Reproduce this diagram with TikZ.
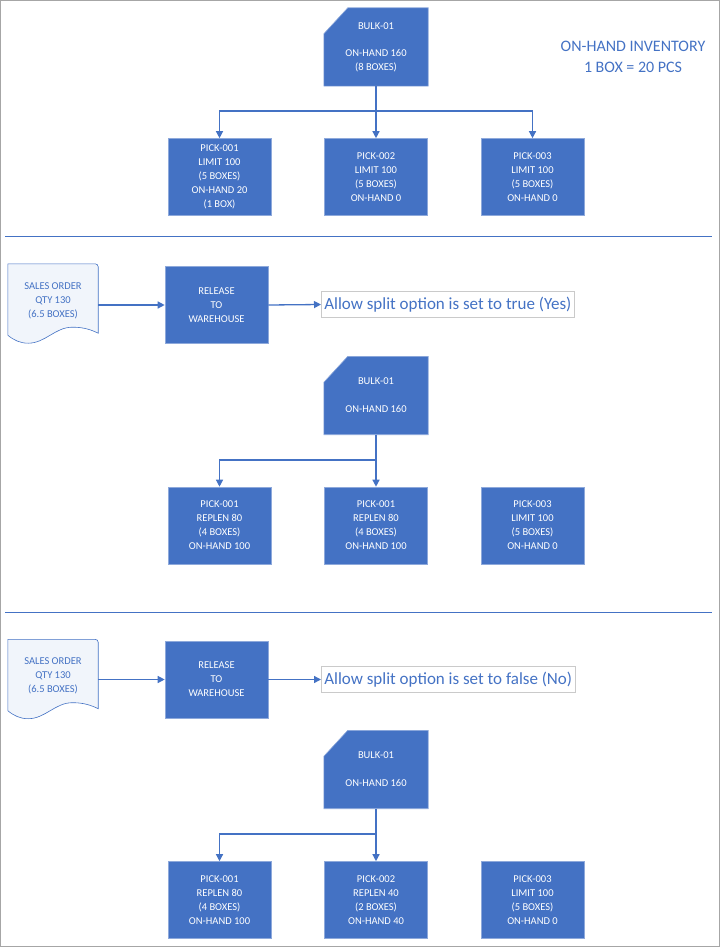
\documentclass[tikz,border=0pt]{standalone}
\usepackage{fontspec}
\setmainfont{Carlito}
\usetikzlibrary{arrows.meta}
\definecolor{boxblue}{HTML}{4472C4}
\definecolor{boxedge}{HTML}{8EA9DB}
\definecolor{docfill}{HTML}{F1F5FB}
\definecolor{framegray}{HTML}{A6A6A6}
\tikzset{
  pickbox/.style={rectangle, fill=boxblue, draw=boxedge, line width=0.6pt, minimum width=103pt, minimum height=77pt, text=white, font=\fontsize{10.5}{14}\selectfont, align=center, inner sep=0pt},
  bulkbox/.style={rectangle, minimum width=104pt, minimum height=78pt, text=white, font=\fontsize{10.5}{14}\selectfont, align=center, inner sep=0pt},
  bulkshape/.style={fill=boxblue, draw=boxedge, line width=0.6pt},
  docbox/.style={rectangle, minimum width=90pt, minimum height=79pt, text=boxblue, font=\fontsize{10.5}{14}\selectfont, align=center, inner sep=0pt},
  docshape/.style={fill=docfill, draw=boxblue, line width=0.6pt},
  optlabel/.style={rectangle, draw=framegray!60, line width=0.6pt, text=boxblue, font=\fontsize{17}{19}\selectfont, inner xsep=3pt, inner ysep=0pt, minimum height=26pt, anchor=west},
  conn/.style={draw=boxblue, line width=1.3pt},
  arrowconn/.style={conn, -{Triangle[length=7pt,width=7pt]}},
  sepline/.style={draw=boxblue, line width=1pt},
}
\newcommand{\bulkpath}[1]{%
  \path[bulkshape] (#1.south west) -- (#1.south east) -- (#1.north east) -- ([xshift=24pt]#1.north west) -- ([yshift=-26pt]#1.north west) -- cycle;}
\newcommand{\docpath}[1]{%
  \path[docshape] (#1.north west) -- ([xshift=-3pt]#1.north east) to[out=0,in=90] ([yshift=-3pt]#1.north east) -- ([yshift=10pt]#1.south east)
   .. controls ([xshift=-10pt,yshift=15pt]#1.south east) and ([xshift=-18pt,yshift=16pt]#1.south east) .. ([xshift=-26pt,yshift=16pt]#1.south east)
   .. controls ([xshift=-43pt,yshift=16pt]#1.south east) and ([xshift=-53pt,yshift=0pt]#1.south east) .. ([xshift=-70pt]#1.south east)
   .. controls ([xshift=-78pt]#1.south east) and ([xshift=6pt,yshift=3pt]#1.south west) .. ([yshift=8pt]#1.south west) -- cycle;}
\begin{document}
\begin{tikzpicture}[x=1pt,y=-1pt]
\useasboundingbox (0,0) rectangle (720,947);
\draw[framegray, line width=1pt] (0.5,0.5) rectangle (719.5,946.5);

% ---------- Section 1 ----------
\node[bulkbox] (bulkA) at (376,47) {};
\bulkpath{bulkA}
\node[bulkbox] at (bulkA.center) {BULK-01\\[13pt]ON-HAND 160\\(8 BOXES)};
\node[text=boxblue, font=\fontsize{16}{21}\selectfont, align=center] (legend) at (633,57) {ON-HAND INVENTORY\\1 BOX = 20 PCS};

\node[pickbox] (pA1) at (219.5,177) {PICK-001\\LIMIT 100\\(5 BOXES)\\ON-HAND 20\\(1 BOX)};
\node[pickbox] (pA2) at (376,177) {PICK-002\\LIMIT 100\\(5 BOXES)\\ON-HAND 0};
\node[pickbox] (pA3) at (532.5,177) {PICK-003\\LIMIT 100\\(5 BOXES)\\ON-HAND 0};
\coordinate (jA) at (376,111);
\draw[conn] (bulkA.south) -- (jA);
\draw[arrowconn] (jA) -| (pA1.north);
\draw[arrowconn] (jA) -- (pA2.north);
\draw[arrowconn] (jA) -| (pA3.north);

\coordinate (sA1) at (5,236);
\coordinate (sA2) at (712,236);
\draw[sepline] (sA1) -- (sA2);

% ---------- Section 2 ----------
\node[docbox] (docB) at (53,303.5) {};
\docpath{docB}
\node[docbox] at ([yshift=3pt]docB.center) {SALES ORDER\\QTY 130\\(6.5 BOXES)};
\node[pickbox] (relB) at (216.5,305) {RELEASE\\TO\\WAREHOUSE};
\node[optlabel] (optB) at (321,304.5) {Allow split option is set to true (Yes)};
\draw[arrowconn] (docB.east |- relB.west) -- (relB.west);
\draw[arrowconn] (relB.east) -- (optB.west);

\node[bulkbox] (bulkB) at (376,395.5) {};
\bulkpath{bulkB}
\node[bulkbox] at (bulkB.center) {BULK-01\\[14pt]ON-HAND 160};

\node[pickbox] (pB1) at (219.5,525.5) {PICK-001\\REPLEN 80\\(4 BOXES)\\ON-HAND 100};
\node[pickbox] (pB2) at (376,525.5) {PICK-001\\REPLEN 80\\(4 BOXES)\\ON-HAND 100};
\node[pickbox] (pB3) at (532.5,525.5) {PICK-003\\LIMIT 100\\(5 BOXES)\\ON-HAND 0};
\coordinate (jB) at (376,460);
\draw[conn] (bulkB.south) -- (jB);
\draw[arrowconn] (jB) -| (pB1.north);
\draw[arrowconn] (jB) -- (pB2.north);

\coordinate (sB1) at (5,612);
\coordinate (sB2) at (712,612);
\draw[sepline] (sB1) -- (sB2);

% ---------- Section 3 ----------
\node[docbox] (docC) at (53,679) {};
\docpath{docC}
\node[docbox] at ([yshift=3pt]docC.center) {SALES ORDER\\QTY 130\\(6.5 BOXES)};
\node[pickbox] (relC) at (216.5,679.5) {RELEASE\\TO\\WAREHOUSE};
\node[optlabel] (optC) at (321,679.5) {Allow split option is set to false (No)};
\draw[arrowconn] (docC.east |- relC.west) -- (relC.west);
\draw[arrowconn] (relC.east) -- (optC.west);

\node[bulkbox] (bulkC) at (376,769.5) {};
\bulkpath{bulkC}
\node[bulkbox] at (bulkC.center) {BULK-01\\[14pt]ON-HAND 160};

\node[pickbox] (pC1) at (219.5,900) {PICK-001\\REPLEN 80\\(4 BOXES)\\ON-HAND 100};
\node[pickbox] (pC2) at (376,900) {PICK-002\\REPLEN 40\\(2 BOXES)\\ON-HAND 40};
\node[pickbox] (pC3) at (532.5,900) {PICK-003\\LIMIT 100\\(5 BOXES)\\ON-HAND 0};
\coordinate (jC) at (376,834);
\draw[conn] (bulkC.south) -- (jC);
\draw[arrowconn] (jC) -| (pC1.north);
\draw[arrowconn] (jC) -- (pC2.north);
\end{tikzpicture}
\end{document}
